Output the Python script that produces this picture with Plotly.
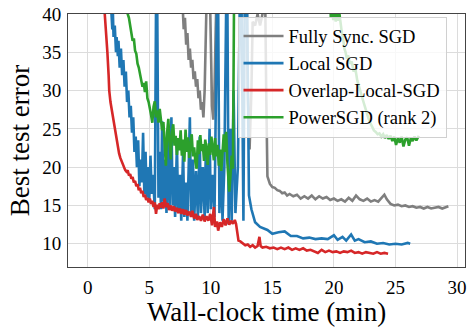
import plotly.graph_objects as go

# ---------------- data ----------------
series_names = ["Fully Sync. SGD", "Local SGD", "Overlap-Local-SGD", "PowerSGD (rank 2)"]
series_colors = ["#7f7f7f", "#1f77b4", "#d62728", "#2ca02c"]

sync_x = [7.6, 7.7, 7.8, 7.9, 8.0, 8.1, 8.2, 8.3, 8.4, 8.5, 8.6, 8.7, 8.8, 8.9, 9.0, 9.1, 9.2, 9.3, 9.4,
          9.5, 9.6, 9.7, 9.9, 10.0, 10.1, 10.2, 10.3, 10.4, 10.5, 12.9, 13.0, 13.15, 13.3, 13.4, 13.6,
          13.8, 14.0, 14.2, 14.4, 14.5, 14.55, 14.6, 14.8, 15.0, 15.2, 15.4, 15.6, 15.8, 16.0, 16.2,
          16.4, 16.7, 17.0, 17.3, 17.6, 17.9, 18.2, 18.5, 18.8, 19.1, 19.4, 19.7, 20.0, 20.3, 20.6,
          20.9, 21.2, 21.5, 21.8, 22.1, 22.4, 22.7, 23.0, 23.3, 23.6, 23.9, 24.1, 24.3, 24.6, 24.9,
          25.2, 25.5, 25.8, 26.1, 26.4, 26.7, 27.0, 27.3, 27.6, 27.9, 28.2, 28.5, 28.8, 29.1, 29.3]
sync_y = [45, 40.5, 38, 39.5, 36, 37.5, 34, 35.5, 33, 34, 31.5, 32.5, 30.5, 31.5, 29, 30, 27.5, 28.5, 26.5,
          30, 38, 45, 45, 33, 28, 26.2, 30, 38, 45, 45, 30, 22.3, 30, 39, 38.5,
          40, 38.5, 40, 45, 30, 20, 18.8, 17.8, 17.4, 17.3, 17.0, 16.9, 16.6, 16.7, 16.3,
          16.5, 16.2, 16.4, 15.9, 16.2, 15.9, 16.3, 15.8, 16.2, 15.9, 16.1, 15.7, 15.9, 15.6, 15.8,
          15.5, 16.0, 15.6, 16.3, 15.8, 15.6, 15.9, 15.5, 15.7, 15.5, 16.0, 16.4, 15.8, 15.2, 15.0,
          15.1, 14.9, 15.0, 14.8, 14.9, 14.7, 14.8, 14.6, 14.8, 14.6, 14.7, 14.8, 14.6, 14.8, 14.9]

local_x = [1.9, 2.0, 2.05, 2.1, 2.2, 2.3, 2.35, 2.45, 2.5, 2.6, 2.7, 2.8, 2.9, 3.0, 3.1, 3.2, 3.3, 3.4,
           3.5, 3.6, 3.7, 3.8, 3.9, 4.0, 4.1, 4.2, 4.3, 4.4, 4.5, 4.6, 4.7, 4.8, 4.9, 5.0, 5.1, 5.2,
           5.3, 5.45, 5.55, 5.65, 5.75, 5.85, 5.95, 6.05, 6.15, 6.3, 6.4, 6.55, 6.65, 6.8, 6.9, 7.0,
           7.1, 7.25, 7.35, 7.5, 7.6, 7.75, 7.85, 8.0, 8.1, 8.3, 8.4, 8.55, 8.65, 8.8, 8.95, 9.1, 9.2,
           9.35, 9.5, 9.6, 9.75, 9.9, 10.0, 10.15, 10.3, 10.5, 10.6, 10.7, 10.85, 10.95, 11.1, 11.25,
           11.35, 11.45, 11.6, 11.7, 11.85, 12.0, 12.2, 12.35, 12.5, 12.65, 12.75, 12.95, 13.1, 13.3,
           13.6, 14.0, 14.6, 15.0, 15.5, 16.0, 16.5, 17.0, 17.5, 18.0, 18.5, 19.0, 19.5, 20.0, 20.3,
           20.7, 21.0, 21.4, 21.7, 22.0, 22.5, 23.0, 23.5, 24.0, 24.5, 25.0, 25.5, 26.0, 26.2]
local_y = [41, 38, 40, 37, 38.5, 35, 37, 34.5, 36.5, 33, 35.5, 32, 34, 30.5, 32.5, 28.5, 30, 26.5,
           28, 24.5, 26.5, 22, 24, 20, 23.5, 17.5, 21, 18, 24.5, 16.5, 22, 16, 20, 15.5, 21.5, 16.5,
           19, 14.5, 41, 41, 16, 22, 14.5, 26, 15.5, 21, 14, 24, 14.5, 26.5, 15, 20,
           13.5, 23, 14, 19, 13, 22, 13.5, 18, 13, 26.5, 13.5, 21, 13, 19.5, 13.5, 24, 14,
           20, 13.5, 22.5, 14, 25, 14.5, 19, 13.5, 41, 41, 14, 22, 13, 20, 41,
           41, 12.5, 25, 13, 30, 14, 20, 41, 41, 13, 41, 41, 16.3, 14.5,
           12.8, 12.2, 11.8, 11.3, 11.5, 11.6, 11.0, 11.0, 10.7, 10.8, 10.6, 10.7, 10.6, 11.1, 10.5,
           10.9, 10.4, 11.2, 10.4, 10.6, 10.2, 10.3, 10.0, 10.1, 9.9, 10.0, 9.9, 10.1, 10.0]

overlap_x = [1.3, 1.4, 1.5, 1.6, 1.7, 1.75, 1.85, 1.95, 2.05, 2.15, 2.25, 2.35, 2.45, 2.55, 2.65, 2.75,
             2.85, 2.95, 3.05, 3.15, 3.25, 3.35, 3.45, 3.55, 3.65, 3.75, 3.85, 3.95, 4.05, 4.15, 4.25,
             4.35, 4.45, 4.55, 4.65, 4.75, 4.85, 4.95, 5.05, 5.15, 5.25, 5.35, 5.45, 5.55, 5.65, 5.75,
             5.85, 5.95, 6.05, 6.15, 6.25, 6.35, 6.5, 6.6, 6.75, 6.85, 7.0, 7.1, 7.25, 7.35, 7.5, 7.6,
             7.75, 7.85, 8.0, 8.1, 8.25, 8.4, 8.5, 8.65, 8.8, 8.9, 9.05, 9.2, 9.35, 9.5, 9.65, 9.8,
             9.95, 10.1, 10.25, 10.35, 10.5, 10.6, 10.75, 10.9, 11.05, 11.2, 11.35, 11.5, 11.65, 11.8,
             11.95, 12.05, 12.15, 12.25, 12.4, 12.6, 12.8, 13.0, 13.2, 13.4, 13.6, 13.8, 13.95, 14.05,
             14.2, 14.5, 14.8, 15.1, 15.4, 15.7, 16.0, 16.3, 16.6, 16.9, 17.2, 17.5, 17.8, 18.1, 18.4,
             18.7, 19.0, 19.3, 19.6, 19.9, 20.2, 20.5, 20.8, 21.1, 21.4, 21.7, 22.0, 22.3, 22.6, 22.9,
             23.2, 23.5, 23.8, 24.1, 24.4]
overlap_y = [42, 40, 37.5, 35, 32, 30, 28.5, 27.5, 26.8, 26, 25, 24, 22.8, 21.8, 21.2, 20.8,
             20.3, 20.0, 19.6, 19.4, 19.6, 18.9, 19.1, 18.5, 18.7, 18.0, 18.2, 17.5, 17.8, 17.0, 17.3,
             16.6, 16.9, 16.1, 16.4, 15.7, 16.0, 15.4, 15.9, 15.2, 15.6, 14.8, 15.4, 13.9, 15.1, 14.5,
             15.3, 14.7, 15.4, 14.6, 15.9, 14.8, 15.3, 14.4, 15.0, 14.3, 14.9, 14.2, 14.7, 14.0, 14.6, 13.9,
             14.5, 13.8, 14.4, 13.7, 14.2, 13.5, 14.3, 13.3, 13.9, 13.1, 13.6, 13.0, 13.8, 12.9, 13.6, 13.0,
             13.9, 12.4, 14.8, 12.2, 12.9, 11.7, 12.8, 12.2, 13.2, 12.4, 13.3, 12.5, 13.0, 12.6,
             13.1, 12.6, 11.5, 10.4, 10.3, 10.0, 9.8, 9.9, 9.6, 9.8, 9.5, 9.7, 10.9, 9.7,
             9.5, 9.6, 9.4, 9.5, 9.3, 9.5, 9.3, 9.5, 9.2, 9.4, 9.2, 9.4, 9.1, 9.2, 9.0,
             8.8, 9.2, 8.9, 9.1, 8.9, 9.0, 8.8, 9.0, 8.9, 9.1, 8.8, 8.9, 8.7, 8.9, 8.8,
             8.7, 8.9, 8.7, 8.8, 8.7]

power_x = [3.15, 3.25, 3.35, 3.45, 3.55, 3.65, 3.75, 3.85, 3.95, 4.05, 4.15, 4.25, 4.35, 4.45, 4.55,
           4.65, 4.75, 4.85, 4.95, 5.05, 5.15, 5.25, 5.35, 5.45, 5.55, 5.65, 5.75, 5.85, 5.95, 6.05,
           6.15, 6.25, 6.35, 6.45, 6.55, 6.65, 6.75, 6.85, 6.95, 7.05, 7.15, 7.25, 7.35, 7.45, 7.55,
           7.65, 7.75, 7.85, 7.95, 8.05, 8.15, 8.25, 8.35, 8.45, 8.55, 8.65, 8.75, 8.85, 8.95, 9.05,
           9.15, 9.25, 9.35, 9.45, 9.55, 9.65, 9.75, 9.85, 9.95, 10.05, 10.15, 10.25, 10.35, 10.45,
           10.55, 10.65, 10.75, 10.85, 10.95, 11.05, 11.15, 11.25, 11.35, 11.45, 11.5, 11.6, 11.7,
           11.8, 11.9, 19.65, 19.75, 19.85, 19.95, 20.05, 20.15, 20.25, 20.35, 20.45, 20.55, 20.65,
           20.75, 20.85, 20.95, 21.05, 21.15, 21.3, 21.45, 21.6, 21.75, 21.9, 22.05, 22.2, 22.35,
           22.5, 22.65, 22.8, 22.95, 23.1, 23.25, 23.4, 23.55, 23.7, 23.85, 24.0, 24.15, 24.3, 24.45,
           24.6, 24.75, 24.9, 25.05, 25.2, 25.35, 25.5, 25.65, 25.8, 25.95, 26.1, 26.25, 26.4, 26.55,
           26.7, 26.9]
power_y = [42, 40, 39.5, 38.5, 37.5, 36.5, 36.8, 35.2, 34.8, 33.5, 33.0, 32.2, 31.6, 30.5, 31.0,
           29.8, 31.2, 29.0, 28.5, 27.8, 26.8, 25.8, 27.9, 28.6, 26.5, 27.4, 25.8, 27.6, 26.2, 24.8,
           25.9, 23.5, 20.2, 24.5, 26.3, 23.2, 21.0, 24.6, 25.6, 22.8, 24.1, 21.6, 23.8, 22.2, 24.8,
           21.5, 23.6, 20.7, 24.9, 22.0, 23.9, 21.2, 22.9, 24.3, 21.4, 22.6, 20.6, 19.8, 23.5, 21.7,
           24.2, 22.1, 23.0, 20.8, 23.6, 22.4, 20.3, 23.1, 21.6, 24.0, 22.5, 20.9, 23.8, 21.4,
           22.9, 20.2, 22.3, 19.5, 21.8, 24.3, 22.0, 24.6, 20.5, 18.3, 16.8, 19.0, 21.5,
           19.8, 45, 45, 39.5, 40.5, 39.2, 40.3, 39.0, 40.2, 39.1, 40.0, 38.5, 37.5,
           36.8, 35.5, 35.0, 34.2, 34.6, 33.5, 33.8, 32.5, 32.8, 31.3, 30.5, 29.5, 28.8,
           28.0, 27.0, 26.4, 25.8, 25.3, 24.8, 24.6, 24.3, 24.4, 24.0, 24.3, 23.8, 24.2, 23.7,
           24.1, 23.4, 24.0, 22.9, 23.8, 23.2, 24.0, 22.7, 23.6, 23.9, 22.8, 23.8, 23.4, 24.0,
           23.5, 24.1]

x_ticks = [0, 5, 10, 15, 20, 25, 30]
y_ticks = [10, 15, 20, 25, 30, 35, 40]

# ---------------- figure ----------------
font_family = "Liberation Serif"
fig = go.Figure()
all_x = [sync_x, local_x, overlap_x, power_x]
all_y = [sync_y, local_y, overlap_y, power_y]
for name, color, xs, ys in zip(series_names, series_colors, all_x, all_y):
    fig.add_trace(go.Scatter(x=xs, y=ys, mode="lines", name=name,
                             line=dict(color=color, width=2.6)))

fig.update_layout(
    width=470, height=327,
    margin=dict(l=68, r=4, t=13, b=57),
    paper_bgcolor="white", plot_bgcolor="white",
    font=dict(family=font_family, color="black", size=19),
    showlegend=True,
    legend=dict(x=0.427, y=0.99, xanchor="left", yanchor="top",
                bgcolor="rgba(255,255,255,0.8)", bordercolor="#d0d0d0", borderwidth=1,
                font=dict(family=font_family, size=18.5, color="black"),
                tracegroupgap=0, itemwidth=40),
)
fig.update_xaxes(range=[-1.6, 30.65], tickvals=x_ticks, ticktext=[str(v) for v in x_ticks],
                 showgrid=True, gridcolor="#dcdcdc", gridwidth=1, zeroline=False,
                 showline=True, linecolor="#444444", linewidth=1, mirror=True,
                 ticks="", ticklabelstandoff=3,
                 tickfont=dict(family=font_family, size=19, color="black"),
                 title=dict(text="Wall-clock time (min)", standoff=6,
                            font=dict(family=font_family, size=27, color="black")))
fig.update_yaxes(range=[6.96, 40], tickvals=y_ticks, ticktext=[str(v) for v in y_ticks],
                 showgrid=True, gridcolor="#dcdcdc", gridwidth=1, zeroline=False,
                 showline=True, linecolor="#444444", linewidth=1, mirror=True,
                 ticks="", ticklabelstandoff=2,
                 tickfont=dict(family=font_family, size=19, color="black"),
                 title=dict(text="Best test error", standoff=4,
                            font=dict(family=font_family, size=27, color="black")))

fig.write_html("out.html")
